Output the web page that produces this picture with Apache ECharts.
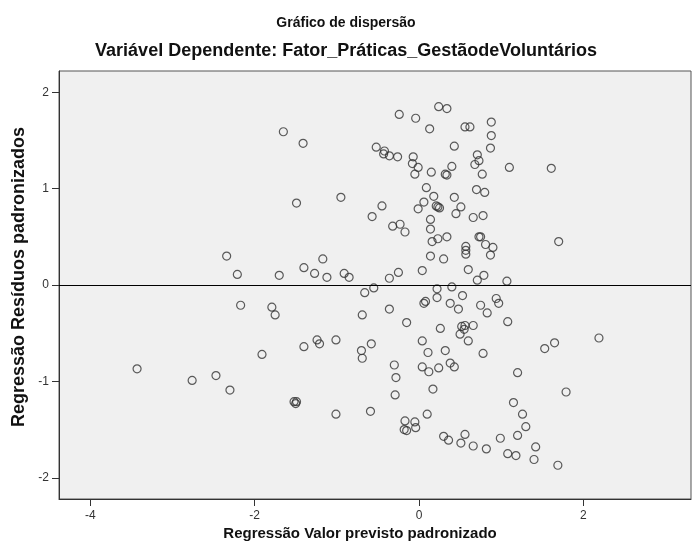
<!DOCTYPE html>
<html>
<head>
<meta charset="utf-8">
<script src="https://cdn.jsdelivr.net/npm/echarts@6/dist/echarts.min.js"></script>
<style>
html,body{margin:0;padding:0;background:#fff;}
#c{width:692px;height:551px;}
</style>
</head>
<body>
<div id="c"></div>
<script>
const titleText = 'Gráfico de dispersão';
const subtitleText = 'Variável Dependente: Fator_Práticas_GestãodeVoluntários';
const xAxisTitle = 'Regressão Valor previsto padronizado';
const yAxisTitle = 'Regressão Resíduos padronizados';
const xTicks = [-4, -2, 0, 2];
const yTicks = [-2, -1, 0, 1, 2];

// Standardized predicted values (x) and standardized residuals (y)
const predicted = [
  -2.34,-2.21,-1.65,-1.41,-0.24,-0.04,0.24,0.34,0.13,0.43,
  0.56,0.62,-0.52,-0.42,-0.43,-0.36,-0.26,-0.07,-0.08,-0.01,
  -0.05,0.15,0.40,0.32,0.34,0.09,-1.49,-0.95,-0.45,-0.57,
  0.18,0.43,0.06,-0.01,0.21,0.23,0.25,0.51,0.45,0.14,
  -0.32,-0.23,-0.17,0.14,0.16,0.23,0.34,0.57,0.57,0.57,
  0.14,0.30,-1.17,-1.40,-1.27,-1.12,-0.91,-0.85,-1.70,-0.36,
  -0.25,0.04,0.60,0.88,0.88,0.87,0.71,0.73,0.68,1.10,
  1.61,0.77,0.70,0.80,0.66,0.78,0.73,0.75,0.81,0.90,
  0.87,0.71,0.79,1.07,1.70,
  -2.17,-1.91,-3.43,-2.76,-2.47,-2.30,-1.79,-1.75,-1.40,-1.24,
  -1.21,-1.01,-1.52,-1.50,-1.49,-1.01,-0.66,-0.55,-0.69,-0.36,
  -0.58,-0.70,-0.69,-0.59,-0.15,-0.30,-0.28,-0.29,-0.17,-0.05,
  -0.18,-0.15,-0.04,0.10,0.04,0.11,0.04,0.12,0.24,0.17,
  0.32,0.38,0.43,0.26,0.06,0.08,0.22,0.22,0.40,0.38,
  0.48,0.53,0.52,0.56,0.55,0.66,0.50,0.60,0.30,0.36,
  0.51,0.56,0.66,0.94,0.97,0.75,0.83,1.08,0.78,1.53,
  1.65,2.19,1.20,1.79,1.15,1.26,1.30,1.20,0.99,0.82,
  1.08,1.18,1.42,1.40,1.69
];
const residuals = [
  0.30,0.11,1.59,1.47,1.77,1.73,1.85,1.83,1.62,1.44,
  1.64,1.64,1.43,1.39,1.36,1.34,1.33,1.33,1.26,1.22,
  1.15,1.17,1.23,1.15,1.14,1.01,0.85,0.91,0.82,0.71,
  0.92,0.91,0.86,0.79,0.82,0.81,0.80,0.81,0.74,0.68,
  0.61,0.63,0.55,0.58,0.45,0.48,0.50,0.40,0.36,0.32,
  0.30,0.27,0.27,0.18,0.12,0.08,0.12,0.08,0.10,0.07,
  0.13,0.15,0.16,1.69,1.55,1.42,1.35,1.29,1.25,1.22,
  1.21,1.15,0.99,0.96,0.70,0.72,0.50,0.50,0.42,0.39,
  0.31,0.05,0.10,0.04,0.45,
  -0.21,-0.72,-0.87,-0.99,-0.94,-1.09,-0.23,-0.31,-0.64,-0.57,
  -0.61,-0.57,-1.21,-1.23,-1.21,-1.34,-0.08,-0.03,-0.31,-0.25,
  -0.61,-0.68,-0.76,-1.31,-0.39,-0.83,-0.96,-1.14,-1.41,-1.42,
  -1.50,-1.51,-1.48,-1.34,-0.58,-0.70,-0.85,-0.90,-0.86,-1.08,
  -0.68,-0.81,-0.85,-0.45,-0.19,-0.17,-0.13,-0.04,-0.02,-0.19,
  -0.25,-0.11,-0.43,-0.42,-0.46,-0.42,-0.51,-0.58,-1.57,-1.61,
  -1.64,-1.55,-1.67,-0.14,-0.19,-0.21,-0.29,-0.38,-0.71,-0.66,
  -0.60,-0.55,-0.91,-1.11,-1.22,-1.34,-1.47,-1.56,-1.59,-1.70,
  -1.75,-1.77,-1.68,-1.81,-1.87
];

const points = predicted.map((x, i) => [x, residuals[i]]);

const chart = echarts.init(document.getElementById('c'), null, {renderer: 'canvas'});
const fontFam = '"Liberation Sans", Arial, sans-serif';
chart.setOption({
  animation: false,
  backgroundColor: '#ffffff',
  title: [
    {text: titleText, left: 'center', top: 11,
     textStyle: {fontFamily: fontFam, fontSize: 14, fontWeight: 'bold', color: '#111'}},
    {text: subtitleText, left: 'center', top: 37,
     textStyle: {fontFamily: fontFam, fontSize: 18, fontWeight: 'bold', color: '#111'}}
  ],
  grid: {
    left: 59, top: 71, right: 1, bottom: 52,
    show: true, backgroundColor: '#f0f0f0', borderColor: '#555', borderWidth: 1
  },
  xAxis: {
    type: 'value', min: -4.38, max: 3.31,
    axisLine: {show: true, onZero: false, lineStyle: {color: '#333', width: 1}},
    axisTick: {show: true, length: 7, inside: false, customValues: xTicks, lineStyle: {color: '#333'}},
    axisLabel: {customValues: xTicks, margin: 11, color: '#333', fontSize: 12, fontFamily: fontFam},
    splitLine: {show: false}
  },
  yAxis: {
    type: 'value', min: -2.22, max: 2.22,
    axisLine: {show: true, onZero: false, lineStyle: {color: '#333', width: 1}},
    axisTick: {show: true, length: 7, inside: false, customValues: yTicks, lineStyle: {color: '#333'}},
    axisLabel: {customValues: yTicks, margin: 10, color: '#333', fontSize: 12, fontFamily: fontFam},
    splitLine: {show: false}
  },
  graphic: [
    {type: 'text', x: 360, y: 534,
     style: {text: xAxisTitle, font: 'bold 15px "Liberation Sans", Arial, sans-serif', fill: '#111',
             textAlign: 'center', textVerticalAlign: 'middle'}},
    {type: 'text', x: 19, y: 277, rotation: Math.PI / 2,
     style: {text: yAxisTitle, font: 'bold 18px "Liberation Sans", Arial, sans-serif', fill: '#111',
             textAlign: 'center', textVerticalAlign: 'middle'}}
  ],
  series: [{
    type: 'scatter',
    data: points,
    symbol: 'circle',
    symbolSize: 8,
    itemStyle: {color: 'rgba(0,0,0,0)', borderColor: '#333', borderWidth: 1.2},
    markLine: {
      silent: true, symbol: ['none', 'none'], label: {show: false},
      lineStyle: {color: '#000', width: 1, type: 'solid'},
      data: [{yAxis: 0}]
    }
  }]
});
</script>
</body>
</html>
